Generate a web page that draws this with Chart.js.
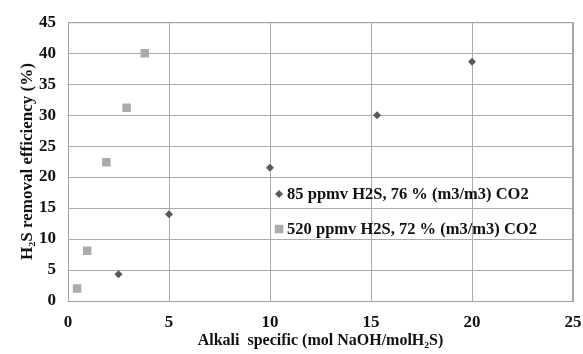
<!DOCTYPE html>
<html>
<head>
<meta charset="utf-8">
<script src="https://cdn.jsdelivr.net/npm/chart.js@4"></script>
<style>
  html, body { margin: 0; padding: 0; background: #fff; }
  #wrap { width: 583px; height: 354px; position: relative; }
</style>
</head>
<body>
<div id="wrap"><canvas id="chart" width="583" height="354"></canvas></div>
<script>
// data
const lowLabel = '85 ppmv H2S, 76 % (m3/m3) CO2';
const lowX = [2.5, 5, 10, 15.3, 20];
const lowY = [4.3, 14, 21.5, 30, 38.6];

const highLabel = '520 ppmv H2S, 72 % (m3/m3) CO2';
const highX = [0.45, 0.95, 1.9, 2.9, 3.8];
const highY = [2.0, 8.1, 22.4, 31.2, 40.0];

const xTitle = 'Alkali  specific (mol NaOH/molH\u2082S)';
const yTitle = 'H\u2082S removal efficiency (%)';

const serif = '"Liberation Serif", "Times New Roman", serif';

function toPoints(xs, ys) {
    return xs.map((x, i) => ({ x: x, y: ys[i] }));
}

// legend sits inside the plot, drawn by hand
const insideLegend = {
    id: 'insideLegend',
    afterDatasetsDraw(chart) {
        const c = chart.ctx;
        const lx = chart.scales.x.getPixelForValue(10.45);
        const rows = [194, 229];
        c.save();
        c.font = 'bold 16.5px ' + serif;
        c.textBaseline = 'middle';
        chart.data.datasets.forEach((ds, i) => {
            const y = rows[i];
            c.fillStyle = ds.backgroundColor;
            c.strokeStyle = ds.borderColor;
            Chart.helpers.drawPoint(c, { pointStyle: ds.pointStyle, radius: ds.pointRadius, borderWidth: 0 }, lx, y);
            c.fillStyle = '#111';
            c.fillText(ds.label, lx + 8, y + 1);
        });
        c.restore();
    }
};

new Chart(document.getElementById('chart').getContext('2d'), {
    type: 'scatter',
    data: {
        datasets: [{
            label: lowLabel,
            data: toPoints(lowX, lowY),
            pointStyle: 'rectRot',
            pointRadius: 4,
            backgroundColor: '#595959',
            borderColor: '#595959',
            borderWidth: 0
        }, {
            label: highLabel,
            data: toPoints(highX, highY),
            pointStyle: 'rect',
            pointRadius: 6,
            backgroundColor: '#ababab',
            borderColor: '#ababab',
            borderWidth: 0
        }]
    },
    options: {
        responsive: false,
        animation: false,
        layout: { padding: { left: 0, right: 0, top: 20, bottom: 0 } },
        plugins: {
            legend: { display: false },
            tooltip: { enabled: false }
        },
        scales: {
            x: {
                type: 'linear',
                min: 0, max: 25,
                afterFit(s) { s.height = 53; s.paddingRight = 10; s.paddingLeft = 0; },
                ticks: { stepSize: 5, color: '#111', font: { family: serif, size: 17, weight: 'bold' }, padding: 11 },
                grid: { color: '#ababab', drawTicks: false },
                border: { color: '#a0a0a0' },
                title: { display: true, text: xTitle, color: '#111', font: { family: serif, size: 16, weight: 'bold' }, padding: { top: 0, bottom: 4 } }
            },
            y: {
                min: 0, max: 45,
                afterFit(s) { s.width = 68; },
                ticks: { stepSize: 5, color: '#111', font: { family: serif, size: 17, weight: 'bold' }, padding: 12 },
                grid: { color: '#ababab', drawTicks: false },
                border: { color: '#a0a0a0' },
                title: { display: true, text: yTitle, color: '#111', font: { family: serif, size: 17, weight: 'bold' }, padding: { top: 17, bottom: 0 } }
            }
        }
    },
    plugins: [insideLegend, {
        id: 'frame',
        afterDraw(chart) {
            const a = chart.chartArea;
            const c = chart.ctx;
            c.save();
            c.strokeStyle = '#a0a0a0';
            c.lineWidth = 1;
            c.strokeRect(a.left + 0.5, a.top + 0.5, a.right - a.left - 1, a.bottom - a.top);
            c.restore();
        }
    }]
});
</script>
</body>
</html>
